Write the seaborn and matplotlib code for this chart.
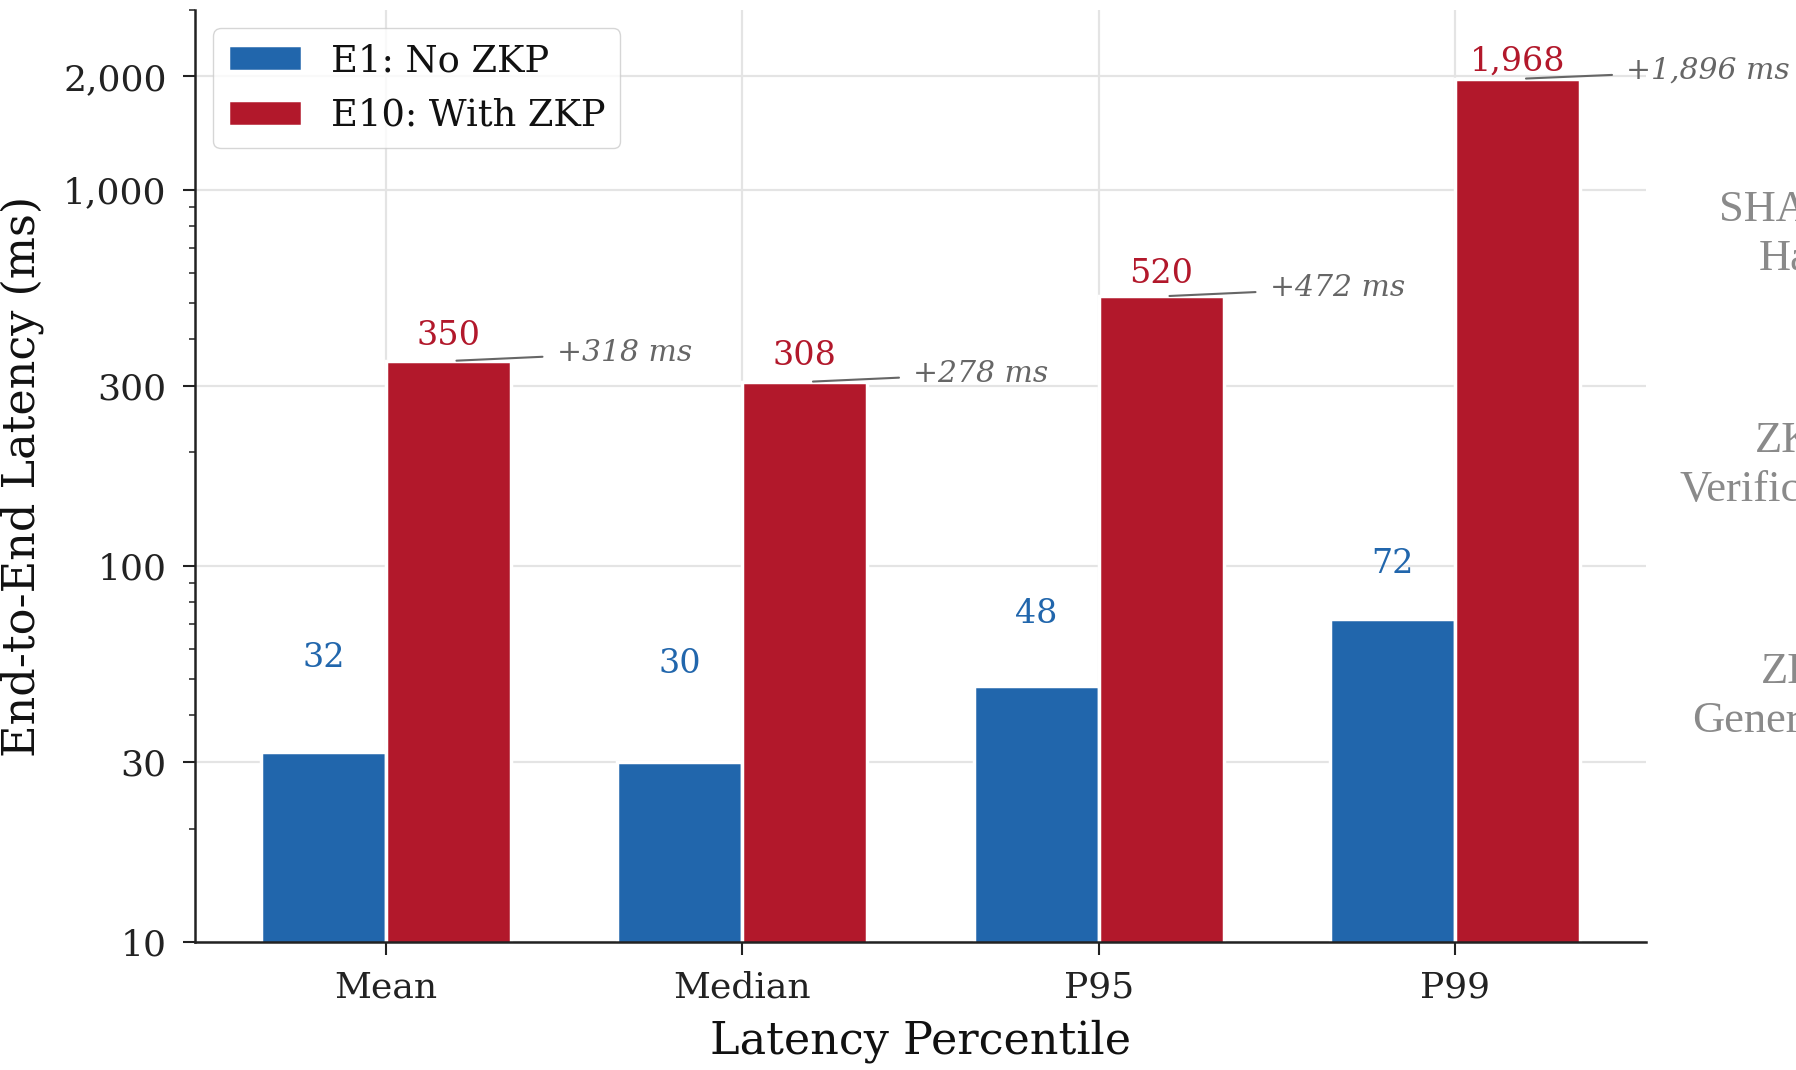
import matplotlib
matplotlib.use("Agg")
import matplotlib.pyplot as plt
from matplotlib.ticker import FixedLocator, FuncFormatter, LogLocator, NullFormatter
import numpy as np
import pandas as pd
import seaborn as sns

# Latency per percentile, with and without zero-knowledge proofs
percentiles = ["Mean", "Median", "P95", "P99"]
no_zkp_ms = [32, 30, 48, 72]
with_zkp_ms = [350, 308, 520, 1968]
series_names = ["E1: No ZKP", "E10: With ZKP"]
y_ticks = [10, 30, 100, 300, 1000, 2000]

# Stage labels of the neighbouring breakdown panel
stage_labels = ["SHA-256\nHash", "ZK\nVerification", "ZK\nGeneration"]

BLUE = "#2166ac"
RED = "#b2182b"
NOTE = "#666666"
INK = "#222222"

sns.set_theme(style="ticks")
plt.rcParams["font.family"] = ["DejaVu Serif"]
plt.rcParams["axes.edgecolor"] = INK
plt.rcParams["xtick.color"] = INK
plt.rcParams["ytick.color"] = INK
plt.rcParams["text.color"] = "#111111"
plt.rcParams["axes.labelcolor"] = "#111111"

df = pd.DataFrame({
    "Percentile": percentiles * 2,
    "Latency": no_zkp_ms + with_zkp_ms,
    "Config": [series_names[0]] * len(percentiles) + [series_names[1]] * len(percentiles),
})

fig = plt.figure(figsize=(17.96, 10.70), dpi=100)
ax = fig.add_axes([0.10857, 0.11963, 0.80791, 0.87103])

sns.barplot(
    data=df, x="Percentile", y="Latency", hue="Config",
    order=percentiles, hue_order=series_names,
    palette=[BLUE, RED], saturation=1, width=0.7,
    edgecolor="white", linewidth=2.5,
    ax=ax, zorder=2,
)
ax.set_yscale("log")

ax.set_xlim(-0.535, len(percentiles) - 1 + 0.535)
ax.set_ylim(10, 3000)
ax.yaxis.set_major_locator(FixedLocator(y_ticks))
ax.yaxis.set_major_formatter(FuncFormatter(lambda v, _: f"{v:,.0f}"))
ax.yaxis.set_minor_locator(LogLocator(base=10, subs=np.arange(2, 10)))
ax.yaxis.set_minor_formatter(NullFormatter())

ax.set_axisbelow(True)
ax.grid(True, which="major", axis="both", color="#e4e4e4", linewidth=1.6)

ax.tick_params(axis="both", which="major", labelsize=26, length=9, width=1.5, pad=11.5)
ax.tick_params(axis="y", which="minor", length=4.5, width=1.1)

sns.despine(ax=ax)
for side in ("left", "bottom"):
    ax.spines[side].set_linewidth(1.8)

ax.set_xlabel("Latency Percentile", fontsize=32, labelpad=11)
ax.set_ylabel("End-to-End Latency (ms)", fontsize=32, labelpad=14)

# Value labels above each bar, and the added latency next to the ZKP bar
offset = 0.01 * max(with_zkp_ms)
blue_bars, red_bars = ax.containers[0], ax.containers[1]
for i, (b1, b2) in enumerate(zip(blue_bars, red_bars)):
    a, b = no_zkp_ms[i], with_zkp_ms[i]
    x1 = b1.get_x() + b1.get_width() / 2
    x2 = b2.get_x() + b2.get_width() / 2
    ax.text(x1, a + offset, f"{a:,}", ha="center", va="bottom", color=BLUE, fontsize=24)
    ax.text(x2, b + offset, f"{b:,}", ha="center", va="bottom", color=RED, fontsize=24)
    ax.annotate(
        f"+{b - a:,} ms", xy=(x2, b), xytext=(i + 0.48, b),
        ha="left", va="baseline", fontsize=21.5, style="italic", color=NOTE,
        arrowprops=dict(arrowstyle="-", color=NOTE, lw=1.5, shrinkA=8, shrinkB=6),
    )

sns.move_legend(ax, "upper left", title=None, fontsize=26.5, frameon=True)

for k, label in enumerate(stage_labels):
    fig.text(1.0520, 0.781 - 0.216 * k, label, ha="right", va="center",
             multialignment="center", fontsize=32, linespacing=1.3,
             family=["Liberation Serif", "DejaVu Serif"], color="#8a8a8a")

fig.savefig("out.png", dpi=100)
